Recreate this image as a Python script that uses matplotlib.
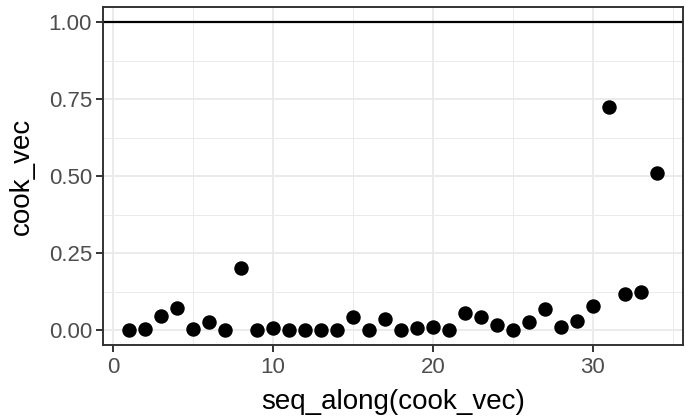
import numpy as np
import matplotlib
matplotlib.use("Agg")
import matplotlib.pyplot as plt
from matplotlib.ticker import MultipleLocator

idx = np.arange(1, 35)
cook_vec = [0.001, 0.003, 0.045, 0.071, 0.003, 0.025, 0.000, 0.201, 0.001, 0.005,
            0.001, 0.000, 0.001, 0.000, 0.041, 0.001, 0.037, 0.001, 0.008, 0.011,
            0.000, 0.054, 0.041, 0.016, 0.000, 0.025, 0.067, 0.009, 0.029, 0.078,
            0.723, 0.116, 0.123, 0.510]
x_ticks = [0, 10, 20, 30]
y_ticks = [0.0, 0.25, 0.5, 0.75, 1.0]
y_labels = ["0.00", "0.25", "0.50", "0.75", "1.00"]

plt.rcParams["font.family"] = ["Liberation Sans", "DejaVu Sans"]

fig = plt.figure(figsize=(6.88, 4.17), dpi=100)
ax = fig.add_axes([0.1497, 0.1717, 0.8430, 0.8123])

ax.set_xlim(-0.65, 35.65)
ax.set_ylim(-0.05, 1.05)
ax.set_xticks(x_ticks)
ax.set_yticks(y_ticks, y_labels)
ax.xaxis.set_minor_locator(MultipleLocator(5))
ax.yaxis.set_minor_locator(MultipleLocator(0.125))

ax.grid(which="major", color="#EBEBEB", lw=1.4, zorder=0)
ax.grid(which="minor", color="#EBEBEB", lw=0.7, zorder=0)
ax.set_axisbelow(True)
ax.tick_params(which="minor", length=0)
ax.tick_params(which="major", length=5, width=1.4, color="#333333",
               labelcolor="#4D4D4D", labelsize=16, pad=3)
for s in ax.spines.values():
    s.set_color("#333333")
    s.set_linewidth(1.4)

ax.axhline(1.0, color="black", lw=1.6, zorder=2)
ax.plot(idx, cook_vec, "o", color="black", markersize=9.4, zorder=3)

ax.set_xlabel("seq_along(cook_vec)", fontsize=20, labelpad=8)
ax.set_ylabel("cook_vec", fontsize=20, labelpad=10)

fig.savefig("out.png", dpi=100)
